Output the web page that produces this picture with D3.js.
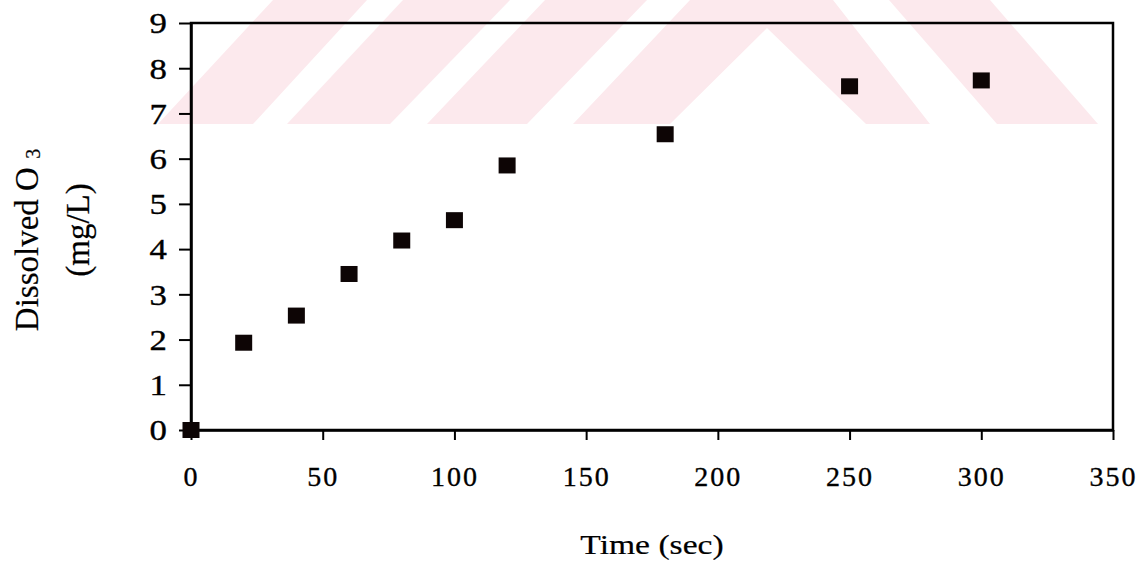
<!DOCTYPE html>
<html>
<head>
<meta charset="utf-8">
<script src="https://cdn.jsdelivr.net/npm/d3@7"></script>
<style>
  html, body { margin: 0; padding: 0; background: #ffffff; }
  svg { display: block; font-family: "Liberation Serif", "Times New Roman", serif; }
</style>
</head>
<body>
<svg id="chart" width="1148" height="572"></svg>
<script>
// Dissolved ozone concentration over time
const timeSec = [0, 20, 40, 60, 80, 100, 120, 180, 250, 300];
const dissolvedO3 = [0, 1.93, 2.53, 3.45, 4.19, 4.64, 5.85, 6.54, 7.60, 7.73];
const xTickValues = [0, 50, 100, 150, 200, 250, 300, 350];
const yTickValues = [0, 1, 2, 3, 4, 5, 6, 7, 8, 9];

const width = 1148, height = 572;
const plot = { left: 191, right: 1113, top: 23, bottom: 430 };
const ink = "#000";

const svg = d3.select("#chart");

// faint striped emblem printed across the top of the page
const emblem = [
  [[273, 0], [367, 0], [253, 124], [158, 124]],
  [[403, 0], [510, 0], [390, 124], [287, 124]],
  [[545, 0], [647, 0], [527, 124], [427, 124]],
  [[690, 0], [833, 0], [930, 124], [866, 124], [767, 28], [670, 124], [573, 124]],
  [[889, 0], [990, 0], [1098, 124], [997, 124]]
];
svg.append("g")
  .selectAll("polygon")
  .data(emblem)
  .join("polygon")
  .attr("points", d => d.map(p => p.join(",")).join(" "))
  .attr("fill", "#fce9ed");

const x = d3.scaleLinear().domain([0, 350]).range([plot.left, plot.right]);
const y = d3.scaleLinear().domain([0, 9]).range([plot.bottom, plot.top]);

// plot frame
svg.append("rect")
  .attr("x", x(0))
  .attr("y", y(9))
  .attr("width", x(350) - x(0))
  .attr("height", y(0) - y(9))
  .attr("fill", "none")
  .attr("stroke", ink)
  .attr("stroke-width", 2.5);

// slightly heavier glyphs, like a printed page
function printed(weight) {
  return sel => sel.attr("fill", ink).attr("stroke", ink).attr("stroke-width", weight);
}

// y axis
const yAxis = svg.append("g")
  .attr("transform", `translate(${x(0)},0)`)
  .call(d3.axisLeft(y).tickValues(yTickValues).tickSize(12).tickSizeOuter(0).tickFormat(d3.format("d")));
yAxis.select(".domain").attr("stroke", ink).attr("stroke-width", 2.5);
yAxis.selectAll(".tick line").attr("stroke", ink).attr("stroke-width", 2);
yAxis.selectAll(".tick text")
  .attr("x", 0)
  .attr("dy", "0.34em")
  .attr("transform", "translate(-24,0) scale(1.2,1)")
  .attr("font-family", "Liberation Serif, serif")
  .attr("font-size", 29)
  .call(printed(0.35));

// x axis
const xAxis = svg.append("g")
  .attr("transform", `translate(0,${y(0)})`)
  .call(d3.axisBottom(x).tickValues(xTickValues).tickSize(10).tickSizeOuter(0).tickPadding(33).tickFormat(d3.format("d")));
xAxis.select(".domain").attr("stroke", ink).attr("stroke-width", 2.5);
xAxis.selectAll(".tick line").attr("stroke", ink).attr("stroke-width", 2);
xAxis.selectAll(".tick text")
  .attr("font-family", "Liberation Serif, serif")
  .attr("font-size", 28)
  .attr("letter-spacing", 2)
  .attr("dy", "0.48em")
  .call(printed(0.35));

// data markers
const points = timeSec.map((t, i) => ({ t, v: dissolvedO3[i] }));
const markerW = 17, markerH = 16;
svg.append("g")
  .selectAll("rect")
  .data(points)
  .join("rect")
  .attr("x", d => x(d.t) - markerW / 2)
  .attr("y", d => y(d.v) - markerH / 2)
  .attr("width", markerW)
  .attr("height", markerH)
  .attr("fill", "#0d0505");

// axis titles
svg.append("text")
  .attr("transform", `translate(${(plot.left + plot.right) / 2},554) scale(1.2,1)`)
  .attr("text-anchor", "middle")
  .attr("font-size", 28)
  .call(printed(0.2))
  .text("Time (sec)");

const yTitle = svg.append("text")
  .attr("transform", "translate(38,240) rotate(-90)")
  .attr("text-anchor", "middle")
  .attr("font-size", 33)
  .call(printed(0.2));
yTitle.append("tspan").text("Dissolved O ");
yTitle.append("tspan").attr("font-size", 20).attr("dy", 2).text("3");

svg.append("text")
  .attr("transform", "translate(89,230) rotate(-90)")
  .attr("text-anchor", "middle")
  .attr("font-size", 33)
  .call(printed(0.2))
  .text("(mg/L)");
</script>
</body>
</html>
